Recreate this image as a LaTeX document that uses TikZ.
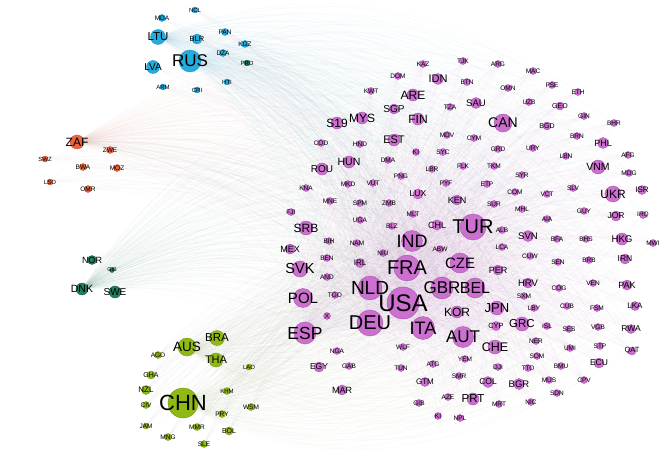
\documentclass[tikz,border=0pt]{standalone}
\usepackage{fontspec}
\setmainfont{Liberation Sans}
\definecolor{pkF}{RGB}{204,112,208}
\definecolor{pkD}{RGB}{160,75,165}
\definecolor{blF}{RGB}{35,172,222}
\definecolor{blD}{RGB}{25,140,190}
\definecolor{orF}{RGB}{236,100,62}
\definecolor{orD}{RGB}{200,75,45}
\definecolor{grF}{RGB}{32,125,95}
\definecolor{grD}{RGB}{20,95,70}
\definecolor{olF}{RGB}{145,185,22}
\definecolor{olD}{RGB}{110,145,10}
\definecolor{edG}{RGB}{165,160,185}
\pgfdeclarelayer{bg}
\pgfdeclarelayer{fg}
\pgfsetlayers{bg,main,fg}
\tikzset{
  nodebase/.style={circle, inner sep=0pt, line width=0.35pt},
  pk/.style={nodebase, fill=pkF, draw=pkD},
  bl/.style={nodebase, fill=blF, draw=blD},
  orr/.style={nodebase, fill=orF, draw=orD},
  gr/.style={nodebase, fill=grF, draw=grD},
  ol/.style={nodebase, fill=olF, draw=olD},
  lbl/.style={inner sep=0pt, text=black},
  edgepk/.style={draw=pkF, line width=0.2pt, opacity=0.06},
  edgegy/.style={draw=edG, line width=0.2pt, opacity=0.09},
  edgebl/.style={draw=blF, line width=0.2pt, opacity=0.045},
  edgeol/.style={draw=olD, line width=0.2pt, opacity=0.045},
  edgeor/.style={draw=orF, line width=0.2pt, opacity=0.045},
  edgegr/.style={draw=grF, line width=0.2pt, opacity=0.045},
}
\newcommand\nd[7]{%
  \node[#6, minimum size=2*#4pt] (#1) at (#2,#3) {};
  \begin{pgfonlayer}{fg}
  \node[lbl, font=\fontsize{#5}{#5}\selectfont] (#1-l) at (#1.center) {#7};
  \end{pgfonlayer}}
\newcommand\sm[4]{\nd{#1}{#2}{#3}{3.5}{6.5}{pk}{#4}}
\def\PKall{USA,DEU,NLD,FRA,TUR,IND,GBR,BEL,ITA,ESP,AUT,CZE,POL,SVK,CAN,UKR,SRB,KOR,CHE,JPN,GRC,HRV,PRT,VNM,HKG,MYS,S19,ARE,FIN,EST,SGP,IDN,SAU,HUN,ROU,MEX,PHL,LUX,KEN,CHL,SVN,PER,IRL,JOR,ISR,IRN,PAK,LKA,RWA,QAT,ECU,COL,BGR,EGY,MAR,GTM,CYP,DOM,KWT,KAZ,TJK,ARG,MAC,BTN,OMN,TZA,UZB,PSE,ETH,GEO,GIN,BGD,BHR,BRN,URY,LBN,AFG,MDV,CYM,GRD,KI,SYC,COD,HND,DMA,LBR,FLK,TKM,SYR,PYF,ETP,COM,SUR,MHL,MLT,ALB,ABW,LCA,CUW,MDG,SLV,VCT,GUY,IRQ,AIA,BFA,BHS,MWI,SEN,BRB,PNG,KNA,MKD,VUT,MNE,SPM,ZMB,FJI,UGA,BLZ,BIH,NAM,NIU,BEN,AND,TGO,X,WLF,NGA,YEM,GAB,TUN,ATG,SMR,GIBb,AZE,KIb,NPL,COG,VEN,SXM,LBY,CUB,FSM,ISL,SES,VGB,NER,UMI,STP,SOM,DJI,TTO,BMU,MUS,CPV,SDN,MRT,NIC}
\def\OTall{RUS,LTU,LVA,BLR,NCL,MDA,PAN,KGZ,DZA,HTI,ARM,CRI,PRD,ZAF,ZWE,SWZ,BWA,MOZ,LSO,OMR,NOR,GIB,DNK,SWE,CHN,AUS,BRA,THA,AGO,LAO,GHA,NZL,KHM,CIV,WSM,PRY,JAM,MMR,BOL,MNG,SLE}
\def\PKhubs{USA,DEU,FRA,NLD,GBR,ITA,TUR,IND,BEL,ESP,AUT,CZE}
\def\PKhubsB{USA,DEU,FRA,NLD,GBR,ITA,TUR,IND}
\def\BLgrp{LTU,LVA,BLR,NCL,MDA,PAN,KGZ,DZA,HTI,ARM,CRI,PRD}
\def\OLgrp{AUS,BRA,THA,AGO,LAO,GHA,NZL,KHM,CIV,WSM,PRY,JAM,MMR,BOL,MNG,SLE}
\def\ORgrp{ZWE,SWZ,BWA,MOZ,LSO,OMR}
\begin{document}
\begin{tikzpicture}[x=1pt,y=-1pt]
\useasboundingbox (0,0) rectangle (668,457);
\begin{pgfonlayer}{bg}
\fill[white] (0,0) rectangle (668,457);
\end{pgfonlayer}
% ---- blue cluster
\nd{RUS}{190}{61}{11}{17}{bl}{RUS}
\nd{LTU}{158}{37}{7.5}{11.5}{bl}{LTU}
\nd{LVA}{153}{67}{6.5}{10}{bl}{LVA}
\nd{BLR}{197}{39}{5}{7.5}{bl}{BLR}
\nd{NCL}{195}{10}{3}{6}{bl}{NCL}
\nd{MDA}{162}{18}{3.5}{6.5}{bl}{MDA}
\nd{PAN}{225}{32}{3.5}{6.5}{bl}{PAN}
\nd{KGZ}{245}{44}{3.5}{6.5}{bl}{KGZ}
\nd{DZA}{223}{53}{3.5}{6.5}{bl}{DZA}
\nd{HTI}{227}{82}{3}{6}{bl}{HTI}
\nd{ARM}{163}{87}{3}{6}{bl}{ARM}
\nd{CRI}{197}{90}{3}{6}{bl}{CRI}
\nd{PRD}{247}{63}{3}{6}{gr}{PRD}
% ---- orange cluster
\nd{ZAF}{77}{142}{7}{12}{orr}{ZAF}
\nd{ZWE}{110}{150}{3.5}{6.5}{orr}{ZWE}
\nd{SWZ}{45}{159}{3}{6}{orr}{SWZ}
\nd{BWA}{83}{167}{3.5}{6.5}{orr}{BWA}
\nd{MOZ}{117}{168}{3.5}{6.5}{orr}{MOZ}
\nd{LSO}{50}{182}{3}{6}{orr}{LSO}
\nd{OMR}{88}{189}{3.5}{6.5}{orr}{OMR}
% ---- teal cluster
\nd{NOR}{92}{260}{4.5}{9}{gr}{NOR}
\nd{GIB}{112}{270}{2.5}{5.5}{gr}{GIB}
\nd{DNK}{82}{289}{6}{10.5}{gr}{DNK}
\nd{SWE}{115}{292}{6}{10}{gr}{SWE}
% ---- olive cluster
\nd{CHN}{183}{403}{15}{22}{ol}{CHN}
\nd{AUS}{187}{347}{9}{13.5}{ol}{AUS}
\nd{BRA}{217}{338}{7.5}{11.5}{ol}{BRA}
\nd{THA}{216}{360}{7}{11}{ol}{THA}
\nd{AGO}{158}{355}{3.5}{6.5}{ol}{AGO}
\nd{LAO}{249}{367}{3}{6}{ol}{LAO}
\nd{GHA}{151}{375}{4}{7}{ol}{GHA}
\nd{NZL}{146}{390}{4.5}{8}{ol}{NZL}
\nd{KHM}{227}{391}{3.5}{6}{ol}{KHM}
\nd{CIV}{146}{405}{3.5}{6.5}{ol}{CIV}
\nd{WSM}{251}{407}{3.5}{6.5}{ol}{WSM}
\nd{PRY}{222}{414}{3.5}{6.5}{ol}{PRY}
\nd{JAM}{146}{426}{3}{6.5}{ol}{JAM}
\nd{MMR}{197}{427}{3.5}{6.5}{ol}{MMR}
\nd{BOL}{229}{431}{4}{7}{ol}{BOL}
\nd{MNG}{168}{437}{3.5}{6.5}{ol}{MNG}
\nd{SLE}{204}{444}{3.5}{6.5}{ol}{SLE}
% ---- pink cluster: small nodes first
\sm{DOM}{398}{76}{DOM}
\sm{KWT}{371}{91}{KWT}
\sm{KAZ}{423}{64}{KAZ}
\sm{TJK}{463}{61}{TJK}
\sm{ARG}{498}{64}{ARG}
\sm{MAC}{533}{71}{MAC}
\sm{BTN}{467}{82}{BTN}
\sm{OMN}{508}{88}{OMN}
\sm{TZA}{450}{107}{TZA}
\sm{UZB}{529}{102}{UZB}
\sm{PSE}{552}{85}{PSE}
\sm{ETH}{578}{92}{ETH}
\nd{GEO}{560}{106}{4}{7}{pk}{GEO}
\sm{GIN}{584}{116}{GIN}
\nd{BGD}{547}{126}{4}{7}{pk}{BGD}
\sm{BHR}{614}{123}{BHR}
\sm{BRN}{577}{136}{BRN}
\sm{URY}{533}{148}{URY}
\sm{LBN}{566}{156}{LBN}
\sm{AFG}{628}{155}{AFG}
\sm{MDV}{447}{135}{MDV}
\sm{CYM}{474}{138}{CYM}
\sm{GRD}{498}{149}{GRD}
\sm{KI}{416}{152}{KI}
\sm{SYC}{443}{152}{SYC}
\sm{COD}{321}{143}{COD}
\sm{HND}{360}{144}{HND}
\sm{DMA}{388}{160}{DMA}
\sm{LBR}{432}{169}{LBR}
\sm{FLK}{463}{166}{FLK}
\sm{TKM}{494}{166}{TKM}
\sm{SYR}{522}{175}{SYR}
\sm{PYF}{446}{183}{PYF}
\sm{ETP}{487}{184}{ETP}
\sm{COM}{515}{192}{COM}
\sm{SUR}{494}{204}{SUR}
\sm{MHL}{522}{209}{MHL}
\sm{MLT}{413}{214}{MLT}
\sm{ALB}{502}{230}{ALB}
\sm{ABW}{440}{249}{ABW}
\sm{LCA}{502}{247}{LCA}
\sm{CUW}{530}{256}{CUW}
\sm{MDG}{629}{173}{MDG}
\sm{SLV}{573}{188}{SLV}
\sm{VCT}{547}{194}{VCT}
\sm{GUY}{584}{211}{GUY}
\sm{IRQ}{643}{215}{IRQ}
\sm{AIA}{547}{219}{AIA}
\sm{BFA}{557}{239}{BFA}
\sm{BHS}{586}{239}{BHS}
\sm{MWI}{653}{243}{MWI}
\sm{SEN}{558}{262}{SEN}
\sm{BRB}{589}{260}{BRB}
\sm{PNG}{401}{176}{PNG}
\sm{KNA}{306}{188}{KNA}
\sm{MKD}{348}{184}{MKD}
\sm{VUT}{373}{183}{VUT}
\sm{MNE}{330}{201}{MNE}
\sm{SPM}{360}{203}{SPM}
\sm{ZMB}{389}{203}{ZMB}
\sm{FJI}{291}{212}{FJI}
\sm{UGA}{360}{220}{UGA}
\sm{BLZ}{392}{226}{BLZ}
\sm{BIH}{329}{241}{BIH}
\sm{NAM}{357}{243}{NAM}
\sm{NIU}{383}{253}{NIU}
\sm{BEN}{327}{258}{BEN}
\sm{AND}{327}{277}{AND}
\sm{TGO}{335}{295}{TGO}
\sm{X}{327}{316}{X}
\sm{WLF}{403}{347}{WLF}
\sm{NGA}{337}{351}{NGA}
\sm{YEM}{465}{359}{YEM}
\sm{GAB}{349}{366}{GAB}
\sm{TUN}{401}{368}{TUN}
\sm{ATG}{433}{364}{ATG}
\sm{SMR}{459}{376}{SMR}
\sm{GIBb}{419}{403}{GIB}
\sm{AZE}{448}{397}{AZE}
\sm{KIb}{438}{416}{KI}
\sm{NPL}{460}{418}{NPL}
\sm{COG}{559}{288}{COG}
\sm{VEN}{593}{283}{VEN}
\sm{SXM}{524}{296}{SXM}
\sm{LBY}{534}{308}{LBY}
\sm{CUB}{567}{306}{CUB}
\sm{FSM}{597}{308}{FSM}
\sm{ISL}{547}{326}{ISL}
\sm{SES}{569}{329}{SES}
\sm{VGB}{598}{327}{VGB}
\sm{NER}{536}{341}{NER}
\sm{UMI}{570}{348}{UMI}
\sm{STP}{600}{346}{STP}
\sm{SOM}{537}{356}{SOM}
\sm{DJI}{498}{367}{DJI}
\sm{TTO}{528}{368}{TTO}
\sm{BMU}{561}{366}{BMU}
\sm{MUS}{549}{380}{MUS}
\sm{CPV}{584}{380}{CPV}
\sm{SDN}{557}{393}{SDN}
\sm{MRT}{499}{404}{MRT}
\sm{NIC}{531}{402}{NIC}
% ---- pink medium
\nd{MYS}{362}{118}{6}{12}{pk}{MYS}
\nd{S19}{337}{123}{6}{12}{pk}{S19}
\nd{ARE}{413}{95}{6}{12}{pk}{ARE}
\nd{FIN}{418}{119}{6}{12}{pk}{FIN}
\nd{EST}{394}{140}{6}{11}{pk}{EST}
\nd{SGP}{394}{109}{5}{10}{pk}{SGP}
\nd{IDN}{438}{79}{5.5}{11}{pk}{IDN}
\nd{SAU}{476}{103}{5.5}{9.5}{pk}{SAU}
\nd{HUN}{349}{162}{6}{10.5}{pk}{HUN}
\nd{ROU}{322}{169}{6}{10}{pk}{ROU}
\nd{MEX}{290}{249}{5}{9}{pk}{MEX}
\nd{PHL}{603}{143}{5.5}{9}{pk}{PHL}
\nd{LUX}{418}{194}{5}{8.5}{pk}{LUX}
\nd{KEN}{457}{200}{5}{9}{pk}{KEN}
\nd{CHL}{437}{225}{5}{9}{pk}{CHL}
\nd{SVN}{528}{236}{5.5}{9.5}{pk}{SVN}
\nd{PER}{498}{270}{5}{9}{pk}{PER}
\nd{IRL}{360}{263}{4.5}{8}{pk}{IRL}
\nd{JOR}{616}{216}{5}{8.5}{pk}{JOR}
\nd{ISR}{642}{190}{4.5}{8}{pk}{ISR}
\nd{IRN}{625}{259}{5}{8.5}{pk}{IRN}
\nd{PAK}{627}{285}{5}{9}{pk}{PAK}
\nd{LKA}{635}{306}{4.5}{8}{pk}{LKA}
\nd{RWA}{631}{329}{4.5}{8.5}{pk}{RWA}
\nd{QAT}{632}{351}{4}{7.5}{pk}{QAT}
\nd{ECU}{599}{363}{5}{8.5}{pk}{ECU}
\nd{COL}{488}{382}{5.5}{8.5}{pk}{COL}
\nd{BGR}{519}{384}{5.5}{9.5}{pk}{BGR}
\nd{EGY}{319}{367}{5}{8.5}{pk}{EGY}
\nd{MAR}{342}{390}{5}{9}{pk}{MAR}
\nd{GTM}{425}{382}{4.5}{8}{pk}{GTM}
\nd{CYP}{496}{326}{4.5}{7.5}{pk}{CYP}
\nd{HRV}{528}{283}{5}{9.5}{pk}{HRV}
\nd{VNM}{598}{167}{7}{10.5}{pk}{VNM}
\nd{HKG}{622}{239}{6}{9.7}{pk}{HKG}
\nd{KOR}{457}{312}{6}{12}{pk}{KOR}
\nd{PRT}{473}{399}{6}{11.5}{pk}{PRT}
\nd{SRB}{306}{228}{7}{12}{pk}{SRB}
\nd{CHE}{495}{347}{7}{12.5}{pk}{CHE}
\nd{JPN}{497}{308}{7}{13}{pk}{JPN}
\nd{GRC}{522}{324}{7}{11.5}{pk}{GRC}
\nd{UKR}{613}{194}{8}{12}{pk}{UKR}
\nd{CAN}{503}{123}{9}{14}{pk}{CAN}
% ---- pink large
\nd{SVK}{300}{269}{8}{14.5}{pk}{SVK}
\nd{POL}{303}{298}{9.5}{15}{pk}{POL}
\nd{CZE}{460}{263}{10}{15}{pk}{CZE}
\nd{ESP}{305}{333}{11}{17.5}{pk}{ESP}
\nd{AUT}{463}{337}{10.5}{17}{pk}{AUT}
\nd{IND}{412}{241}{10.5}{18}{pk}{IND}
\nd{BEL}{475}{288}{10}{16}{pk}{BEL}
\nd{GBR}{442}{288}{11}{17}{pk}{GBR}
\nd{ITA}{423}{328}{11.5}{18}{pk}{ITA}
\nd{TUR}{473}{227}{13}{20}{pk}{TUR}
\nd{FRA}{407}{268}{13}{20}{pk}{FRA}
\nd{NLD}{370}{288}{12}{19}{pk}{NLD}
\nd{DEU}{370}{323}{13}{20}{pk}{DEU}
\nd{USA}{403}{303}{16}{24}{pk}{USA}
% ---- connectors (background layer)
\begin{pgfonlayer}{bg}
\foreach \hubn in \PKhubs {\foreach \tgtn in \PKall {\ifx\hubn\tgtn\else\draw[edgepk] (\hubn) to[bend left=22] (\tgtn);\fi}}
\foreach \hubn in \PKhubsB {\foreach \tgtn in \OTall {\draw[edgegy] (\tgtn) to[bend left=22] (\hubn);}}
\foreach \tgtn in \PKall {\draw[edgebl] (RUS) to[bend left=26] (\tgtn);}
\foreach \tgtn in \PKall {\draw[edgebl] (LTU) to[bend left=26] (\tgtn);}
\foreach \tgtn in \PKall {\draw[edgeol] (\tgtn) to[bend left=26] (CHN);}
\foreach \tgtn in \PKall {\draw[edgeol] (\tgtn) to[bend left=26] (AUS);}
\foreach \tgtn in \PKall {\draw[edgeor] (ZAF) to[bend left=22] (\tgtn);}
\foreach \tgtn in \PKall {\draw[edgegr] (DNK) to[bend left=22] (\tgtn);}
\foreach \tgtn in \BLgrp {\draw[edgebl] (RUS) to[bend left=14] (\tgtn);}
\foreach \tgtn in \OLgrp {\draw[edgeol] (CHN) to[bend left=14] (\tgtn);}
\foreach \tgtn in \ORgrp {\draw[edgeor] (ZAF) to[bend left=14] (\tgtn);}
\draw[edgegr] (DNK) to[bend left=14] (SWE);
\draw[edgegr] (DNK) to[bend left=14] (NOR);
\draw[edgegr] (SWE) to[bend left=14] (NOR);
\end{pgfonlayer}
\end{tikzpicture}
\end{document}
